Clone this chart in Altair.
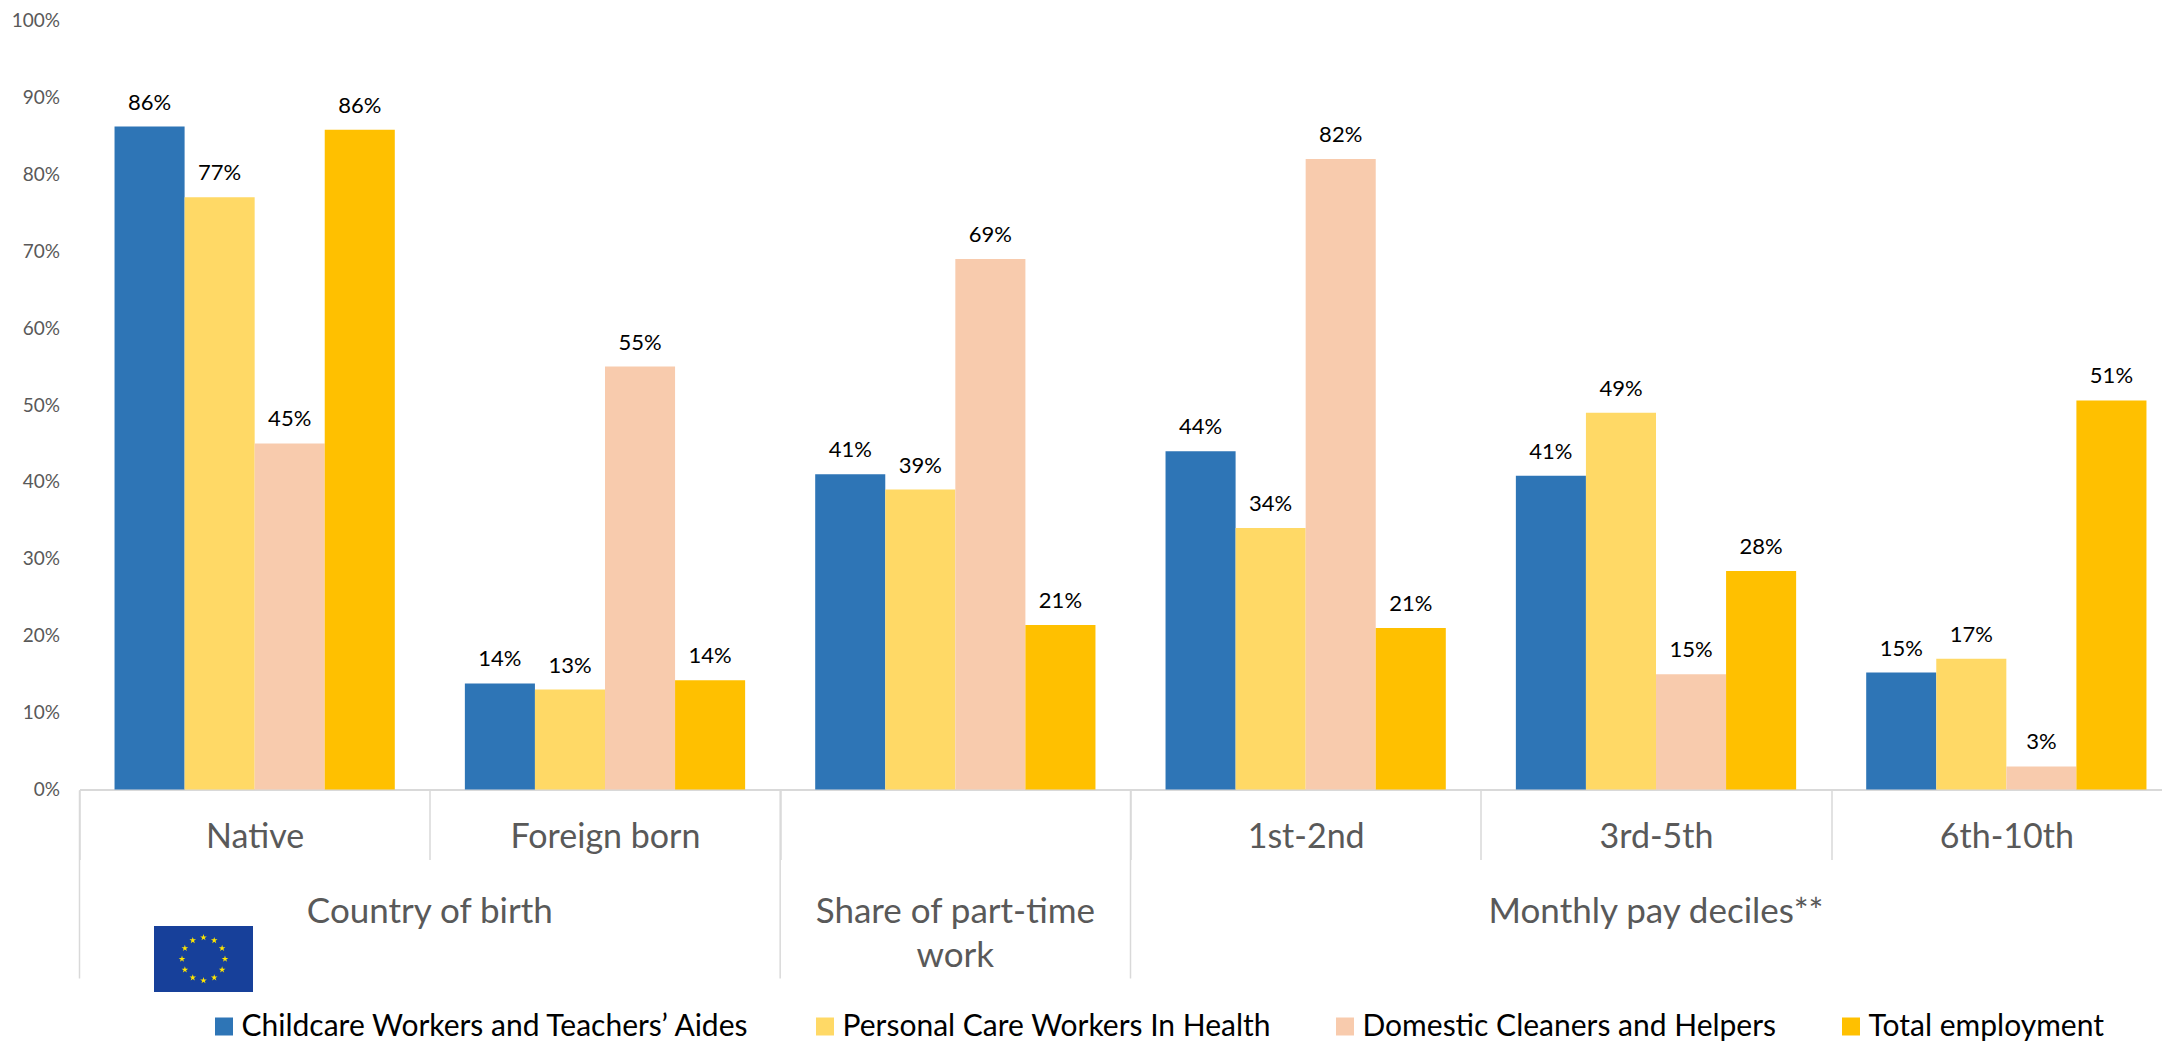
import math
import altair as alt
import pandas as pd

categories = ["Native", "Foreign born", " ", "1st-2nd", "3rd-5th", "6th-10th"]
series = ["Childcare Workers and Teachers’ Aides", "Personal Care Workers In Health",
          "Domestic Cleaners and Helpers", "Total employment"]
colors = ["#2E75B6", "#FFD966", "#F8CBAD", "#FFC000"]
childcare = [0.862, 0.138, 0.41, 0.44, 0.408, 0.152]
personal = [0.77, 0.13, 0.39, 0.34, 0.49, 0.17]
domestic = [0.45, 0.55, 0.69, 0.82, 0.15, 0.03]
total = [0.858, 0.142, 0.214, 0.21, 0.284, 0.506]
groups = ["Country of birth", "Share of part-time\nwork", "Monthly pay deciles**"]
group_anchor = ["Foreign born", " ", "3rd-5th"]
group_band = [0.0, 0.5, 0.5]
group_edges = ["Native", " ", "1st-2nd"]

FONT = "Lato"
W, H = 2082.5, 769

rows = []
for s, vals in zip(series, [childcare, personal, domestic, total]):
    for c, v in zip(categories, vals):
        rows.append({"cat": c, "series": s, "value": v})
df = pd.DataFrame(rows)

xscale = alt.Scale(domain=categories, range=[0, 2102], paddingInner=0, paddingOuter=0)
off = alt.XOffset("series:N", sort=series, scale=alt.Scale(domain=series, paddingInner=0, paddingOuter=0.5))
yscale = alt.Scale(domain=[0, 1])

bars = alt.Chart(df).mark_bar().encode(
    x=alt.X("cat:N", scale=xscale, title=None, axis=alt.Axis(
        tickBand="extent", tickSize=70, tickColor="#D9D9D9", tickWidth=1.5,
        domainColor="#D9D9D9", domainWidth=2, labelAngle=0,
        labelFont=FONT, labelFontSize=34, labelColor="#595959", labelLimit=400,
        labelBaseline="middle", labelPadding=-22, labelOverlap=False, labelFlush=False, labelBound=False)),
    xOffset=off,
    y=alt.Y("value:Q", scale=yscale, title=None, axis=alt.Axis(
        format=".0%", values=[i / 10 for i in range(11)], domain=False, ticks=False, grid=False,
        labelFont=FONT, labelFontSize=19, labelColor="#595959", labelPadding=20)),
    color=alt.Color("series:N", sort=series, scale=alt.Scale(domain=series, range=colors), legend=alt.Legend(
        title=None, orient="none", direction="horizontal", columns=4, gridAlign="none",
        legendX=129.5, legendY=991, symbolType="square", symbolSize=324, symbolStrokeWidth=0,
        labelFont=FONT, labelFontSize=30, labelColor="#000000", labelLimit=900,
        columnPadding=59, labelOffset=2.5)),
)

labels = alt.Chart(df).mark_text(font=FONT, fontSize=22, color="#000000", baseline="alphabetic", dy=-17).encode(
    x=alt.X("cat:N", scale=xscale),
    xOffset=off,
    y=alt.Y("value:Q", scale=yscale),
    text=alt.Text("value:Q", format=".0%"),
)

edges = alt.Chart(pd.DataFrame({"cat": group_edges})).mark_rule(color="#D9D9D9", strokeWidth=1.5).encode(
    x=alt.X("cat:N", scale=xscale, bandPosition=0),
    y=alt.value(770), y2=alt.value(958),
)

group_layers = []
for a, b, g in zip(group_anchor, group_band, groups):
    group_layers.append(
        alt.Chart(pd.DataFrame({"cat": [a], "g": [g]})).mark_text(
            font=FONT, fontSize=35, color="#595959", lineBreak="\n", lineHeight=44, baseline="middle"
        ).encode(x=alt.X("cat:N", scale=xscale, bandPosition=b), y=alt.value(891), text="g:N")
    )

one = pd.DataFrame({"a": [0]})
flag = alt.Chart(one).mark_rect(color="#17409A").encode(
    x=alt.value(74.5), x2=alt.value(173.5), y=alt.value(905.5), y2=alt.value(971.5))
STAR = "M0,-1L0.225,-0.309L0.951,-0.309L0.363,0.118L0.588,0.809L0,0.382L-0.588,0.809L-0.363,0.118L-0.951,-0.309L-0.225,-0.309Z"
stars = [alt.Chart(one).mark_point(shape=STAR, filled=True, color="#FFE600", opacity=1, size=48).encode(
    x=alt.value(124 + 21.5 * math.cos(i * math.pi / 6)),
    y=alt.value(938.5 + 21.5 * math.sin(i * math.pi / 6))) for i in range(12)]

chart = alt.layer(bars, labels, edges, *group_layers, flag, *stars).properties(
    width=W, height=H,
    padding={"left": 71.5, "top": 12.5, "right": 0, "bottom": 252.5},
    autosize=alt.AutoSizeParams(type="none", contains="content"),
).configure_view(stroke=None)

chart.save("out.html", embed_options={"renderer": "svg", "actions": False})
